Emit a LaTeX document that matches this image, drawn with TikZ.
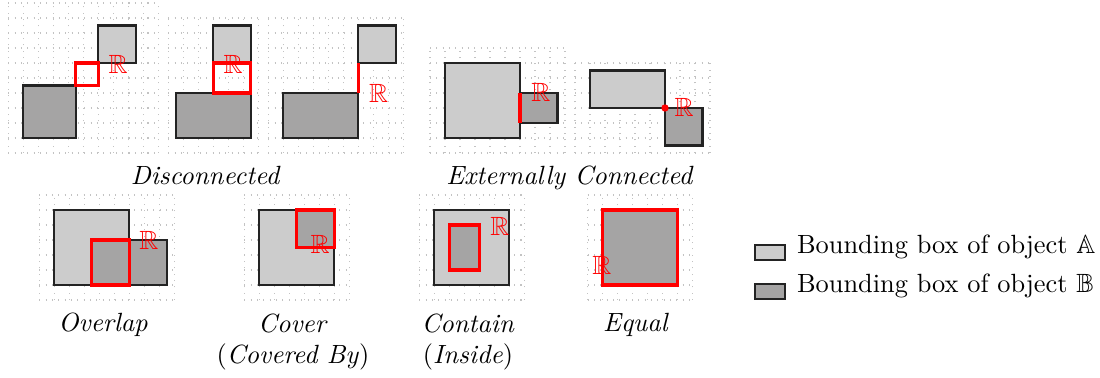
\documentclass[tikz,border=0pt]{standalone}
\usepackage{amsmath,amssymb}
\definecolor{boxlight}{RGB}{204,204,204}
\definecolor{boxdark}{RGB}{165,164,164}
\definecolor{edgeink}{RGB}{35,35,35}
\definecolor{regionred}{RGB}{255,0,0}
\definecolor{gridgray}{RGB}{195,195,195}

\begin{document}
\begin{tikzpicture}[
  x=0.2cm, y=0.2cm,
  gridline/.style={gridgray, dotted, line width=0.4pt, step=0.2cm},
  objA/.style={fill=boxlight, draw=edgeink, line width=0.8pt},
  objB/.style={fill=boxdark, draw=edgeink, line width=0.8pt},
  region/.style={draw=regionred, line width=1.2pt},
  rlabel/.style={text=regionred, inner sep=0pt},
  caption/.style={align=center, anchor=base},
  legendtext/.style={anchor=base west, inner sep=0pt},
]
\useasboundingbox (0,0) rectangle (73.333,25.2);

% -------------------------------------------------------------------------
% Top row: disconnected and externally connected pairs.
% -------------------------------------------------------------------------
\begin{scope}[shift={(0.553,15)}]
  \draw[gridline] (0,0) grid (10,10);
  \draw[objB] (1,1) rectangle (4.5,4.5);
  \draw[objA] (6,6) rectangle (8.5,8.5);
  \draw[region] (4.5,4.5) rectangle (6,6);
  \node[rlabel] (rDisA) at (7.33,5.9) {$\mathbb{R}$};
\end{scope}

\begin{scope}[shift={(11.22,15)}]
  \draw[gridline] (0,0) grid (6,9);
  \draw[objB] (0.5,1) rectangle (5.5,4);
  \draw[objA] (3,6) rectangle (5.5,8.5);
  \draw[region] (3,4) rectangle (5.5,6);
  \node[rlabel] (rDisB) at (4.33,5.9) {$\mathbb{R}$};
\end{scope}

\begin{scope}[shift={(17.89,15)}]
  \draw[gridline] (0,0) grid (9,9);
  \draw[objB] (1,1) rectangle (6,4);
  \draw[objA] (6,6) rectangle (8.5,8.5);
  \draw[region] (6,4) -- (6,6);
  \node[rlabel] (rDisC) at (7.36,3.95) {$\mathbb{R}$};
\end{scope}

\node[caption] (capDis) at (13.72,12.9) {\textit{Disconnected}};

\begin{scope}[shift={(28.667,15)}]
  \draw[gridline] (0,0) grid (9,7);
  \draw[objA] (1,1) rectangle (6,6);
  \draw[objB] (6,2) rectangle (8.5,4);
  \draw[region] (6,2) -- (6,4);
  \node[rlabel] (rExtA) at (7.4,4.05) {$\mathbb{R}$};
\end{scope}

\begin{scope}[shift={(38.333,15)}]
  \draw[gridline] (0,0) grid (9,6);
  \draw[objA] (1,3) rectangle (6,5.5);
  \draw[objB] (6,0.5) rectangle (8.5,3);
  \fill[regionred] (6,3) circle (1.4pt);
  \node[rlabel] (rExtB) at (7.27,3.02) {$\mathbb{R}$};
\end{scope}

\node[caption] (capExt) at (38.0,12.93) {\textit{Externally Connected}};

% -------------------------------------------------------------------------
% Bottom row: overlap, cover, contain and equal.
% -------------------------------------------------------------------------
\begin{scope}[shift={(2.62,5.2)}]
  \draw[gridline] (0,0) grid (9,7);
  \draw[objA] (1,1) rectangle (6,6);
  \draw[objB] (3.5,1) rectangle (8.5,4);
  \draw[region] (3.5,1) rectangle (6,4);
  \node[rlabel] (rOverlap) at (7.31,4.0) {$\mathbb{R}$};
\end{scope}

\begin{scope}[shift={(16.29,5.2)}]
  \draw[gridline] (0,0) grid (7,7);
  \draw[objA] (1,1) rectangle (6,6);
  \draw[objB] (3.5,3.5) rectangle (6,6);
  \draw[region] (3.5,3.5) rectangle (6,6);
  \node[rlabel] (rCover) at (5.05,3.73) {$\mathbb{R}$};
\end{scope}

\begin{scope}[shift={(27.95,5.2)}]
  \draw[gridline] (0,0) grid (7,7);
  \draw[objA] (1,1) rectangle (6,6);
  \draw[objB] (2,2) rectangle (4,5);
  \draw[region] (2,2) rectangle (4,5);
  \node[rlabel] (rContain) at (5.38,4.93) {$\mathbb{R}$};
\end{scope}

\begin{scope}[shift={(39.18,5.2)}]
  \draw[gridline] (0,0) grid (7,7);
  \draw[objA] (1,1) rectangle (6,6);
  \draw[objB] (1,1) rectangle (6,6);
  \draw[region] (1,1) rectangle (6,6);
  \node[rlabel] (rEqual) at (0.95,2.33) {$\mathbb{R}$};
\end{scope}

% two-line captions sit on the baseline of their last line
\node[caption] (capOverlap) at (6.87,3.09) {\textit{Overlap}};
\node[caption] (capCover) at (19.53,0.95) {\textit{Cover}\\(\textit{Covered By})};
\node[caption] (capContain) at (31.2,0.95) {\textit{Contain}\\(\textit{Inside})};
\node[caption] (capEqual) at (42.4,3.09) {\textit{Equal}};

% legend
\draw[objA] (50.33,7.87) rectangle ++(2,1);
\draw[objB] (50.33,5.27) rectangle ++(2,1);
\node[legendtext] (legA) at (53.1,8.3) {Bounding box of object $\mathbb{A}$};
\node[legendtext] (legB) at (53.1,5.7) {Bounding box of object $\mathbb{B}$};

\end{tikzpicture}
\end{document}
